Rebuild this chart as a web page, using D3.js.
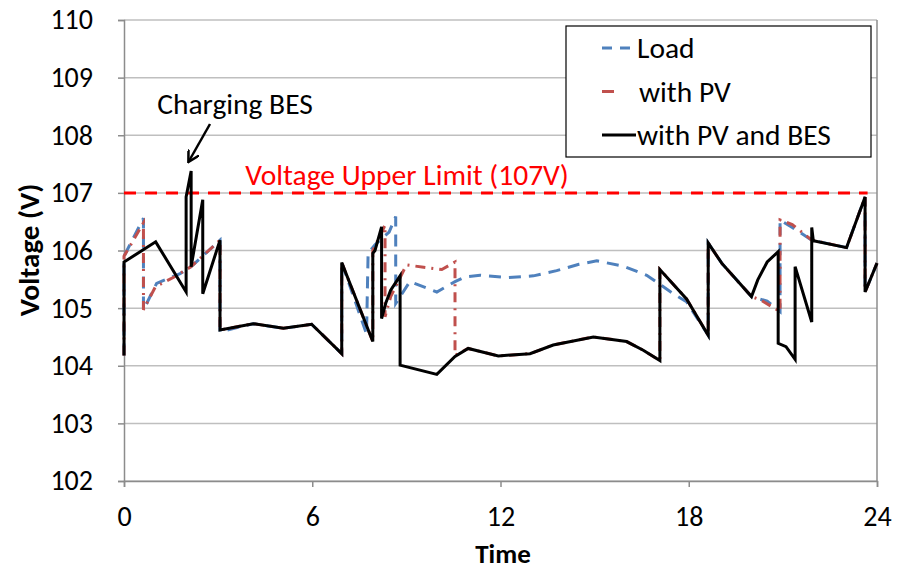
<!DOCTYPE html>
<html><head><meta charset="utf-8">
<script src="https://cdn.jsdelivr.net/npm/d3@7"></script>
<style>
html,body{margin:0;padding:0;background:#fff;}
svg{display:block;font-family:Carlito,Lato,"Open Sans",sans-serif;}
</style></head>
<body><svg id="c" width="902" height="571"></svg>
<script>
const xTicks = [0, 6, 12, 18, 24];
const yTicks = [102, 103, 104, 105, 106, 107, 108, 109, 110];
const upperLimit = 107;
const seriesNames = ["Load", "with PV", "with PV and BES"];

const loadData = [[0,104.18],[0,105.9],[0.62,106.56],[0.62,104.97],[1.04,105.43],[1.79,105.6],[2.14,105.72],[3.06,106.18],[3.06,104.59],[4.12,104.73],[5.08,104.65],[5.98,104.72],[6.94,104.21],[6.94,105.79],[7.73,104.55],[7.78,105.95],[8.0,106.1],[8.45,106.32],[8.66,106.59],[8.66,105.08],[9.11,105.46],[9.97,105.28],[10.55,105.46],[10.87,105.54],[11.35,105.57],[12.2,105.53],[13.05,105.56],[13.79,105.65],[14.5,105.76],[15.07,105.82],[15.91,105.73],[16.66,105.57],[17.51,105.25],[17.93,105.11],[18.62,104.53],[18.62,106.13],[19.05,105.78],[20.0,105.2],[20.5,105.12],[20.91,104.94],[20.91,106.53],[21.3,106.4],[21.92,106.18],[23.03,106.05],[23.62,106.93],[23.62,105.28],[24,105.78]];

const pvData = [[0,104.18],[0,105.9],[0.62,106.48],[0.62,104.97],[1.0,105.37],[1.6,105.54],[2.14,105.72],[3.06,106.18],[3.06,104.62],[4.12,104.73],[5.08,104.65],[5.98,104.72],[6.94,104.21],[6.94,105.79],[7.93,104.42],[7.93,106.0],[8.32,106.44],[8.32,104.85],[8.5,105.2],[9.0,105.75],[9.55,105.71],[10.13,105.67],[10.55,105.8],[10.55,104.18],[10.97,104.30],[11.93,104.17],[12.94,104.21],[13.68,104.36],[14.96,104.50],[16.02,104.42],[16.55,104.27],[17.08,104.09],[17.08,105.67],[17.93,105.16],[18.62,104.53],[18.62,106.13],[19.05,105.78],[20.0,105.2],[20.3,105.14],[20.91,104.94],[20.91,106.53],[21.3,106.45],[21.92,106.18],[23.03,106.05],[23.62,106.93],[23.62,105.28],[24,105.78]];

const besData = [[0,104.18],[0,105.8],[1.01,106.15],[1.98,105.28],[1.98,106.93],[2.14,107.38],[2.14,105.72],[2.51,106.88],[2.51,105.25],[3.06,106.18],[3.06,104.62],[4.12,104.73],[5.08,104.65],[5.98,104.72],[6.94,104.21],[6.94,105.79],[7.93,104.42],[7.93,105.95],[8.0,106.0],[8.21,106.41],[8.21,104.82],[8.35,105.1],[8.5,105.31],[8.8,105.56],[8.8,104.01],[9.97,103.85],[10.55,104.16],[10.97,104.30],[11.93,104.17],[12.94,104.21],[13.68,104.36],[14.96,104.50],[16.02,104.42],[16.55,104.27],[17.08,104.09],[17.08,105.67],[17.93,105.16],[18.62,104.53],[18.62,106.13],[19.05,105.78],[20.0,105.2],[20.2,105.49],[20.5,105.8],[20.85,105.98],[20.85,104.39],[21.1,104.33],[21.39,104.11],[21.39,105.72],[21.92,104.76],[21.92,106.40],[21.97,106.17],[23.03,106.05],[23.62,106.93],[23.62,105.28],[24,105.78]];

const svg = d3.select("#c");
const L = 124, R = 877, T = 20, B = 481;
const x = d3.scaleLinear().domain([0, 24]).range([L, R]);
const y = d3.scaleLinear().domain([102, 110]).range([B, T]);

// gridlines
svg.append("g").selectAll("line").data(yTicks).join("line")
  .attr("x1", L).attr("x2", R).attr("y1", d => y(d)).attr("y2", d => y(d))
  .attr("stroke", "#bfbfbf").attr("stroke-width", 1.5);
// right border
svg.append("line").attr("x1", R).attr("x2", R).attr("y1", T).attr("y2", B)
  .attr("stroke", "#8c8c8c").attr("stroke-width", 1.5);

// axes
const yAxis = svg.append("g").attr("transform", `translate(${L},0)`)
  .call(d3.axisLeft(y).tickValues(yTicks).tickSize(6).tickPadding(25).tickFormat(d3.format("d")));
const xAxis = svg.append("g").attr("transform", `translate(0,${B})`)
  .call(d3.axisBottom(x).tickValues(xTicks).tickSize(6).tickPadding(19).tickFormat(d3.format("d")));
[yAxis, xAxis].forEach(a => {
  a.select(".domain").attr("stroke", "#8c8c8c").attr("stroke-width", 1.5);
  a.selectAll(".tick line").attr("stroke", "#8c8c8c").attr("stroke-width", 1.5);
  a.selectAll("text").attr("font-size", 28).attr("fill", "#000")
    .attr("font-family", "Carlito,Lato,'Open Sans',sans-serif");
});

// limit line
svg.append("line").attr("x1", x(0)).attr("x2", x(23.7)).attr("y1", y(upperLimit)).attr("y2", y(upperLimit))
  .attr("stroke", "#ff0000").attr("stroke-width", 3).attr("stroke-dasharray", "12,9");

const line = d3.line().x(d => x(d[0])).y(d => y(d[1]));
svg.append("path").datum(loadData).attr("d", line).attr("fill", "none")
  .attr("stroke", "#4f81bd").attr("stroke-width", 3).attr("stroke-dasharray", "12,8");
svg.append("path").datum(pvData).attr("d", line).attr("fill", "none")
  .attr("stroke", "#c0504d").attr("stroke-width", 3).attr("stroke-dasharray", "10,6,2,6");
svg.append("path").datum(besData).attr("d", line).attr("fill", "none")
  .attr("stroke", "#000").attr("stroke-width", 3).attr("stroke-linejoin", "miter");

// annotations
svg.append("text").attr("x", 407).attr("y", 185).attr("text-anchor", "middle")
  .attr("font-size", 29.5).attr("fill", "#ff0000").text("Voltage Upper Limit (107V)");
svg.append("text").attr("x", 235).attr("y", 114).attr("text-anchor", "middle")
  .attr("font-size", 29.5).attr("fill", "#000").text("Charging BES");
svg.append("defs").append("marker").attr("id", "ah").attr("viewBox", "0 0 10 10")
  .attr("refX", 8).attr("refY", 5).attr("markerWidth", 5).attr("markerHeight", 5).attr("orient", "auto")
  .append("path").attr("d", "M0,0 L9,5 L0,10").attr("fill", "none").attr("stroke", "#000").attr("stroke-width", 2);
svg.append("line").attr("x1", 210).attr("y1", 124).attr("x2", 189).attr("y2", 161)
  .attr("stroke", "#000").attr("stroke-width", 2.5).attr("marker-end", "url(#ah)");

// axis titles
svg.append("text").attr("x", 503).attr("y", 563).attr("text-anchor", "middle")
  .attr("font-size", 27).attr("font-weight", "bold").text("Time");
svg.append("text").attr("transform", "translate(39,250) rotate(-90)").attr("text-anchor", "middle")
  .attr("font-size", 29).attr("font-weight", "bold").text("Voltage (V)");

// legend
const lg = svg.append("g");
lg.append("rect").attr("x", 566).attr("y", 26).attr("width", 305).attr("height", 131)
  .attr("fill", "#fff").attr("stroke", "#000").attr("stroke-width", 1.2);
const legendStyles = [
  {c: "#4f81bd", dash: "10,8", tx: 637},
  {c: "#c0504d", dash: "12,30", tx: 639},
  {c: "#000", dash: null, tx: 637}
];
seriesNames.forEach((n, i) => {
  const cy = 48 + i * 43.5;
  const s = legendStyles[i];
  lg.append("line").attr("x1", 602).attr("x2", 636).attr("y1", cy).attr("y2", cy)
    .attr("stroke", s.c).attr("stroke-width", 3).attr("stroke-dasharray", s.dash);
  lg.append("text").attr("x", s.tx).attr("y", cy).attr("dy", "0.35em")
    .attr("font-size", 29.5).attr("fill", "#000").text(n);
});
</script></body></html>
